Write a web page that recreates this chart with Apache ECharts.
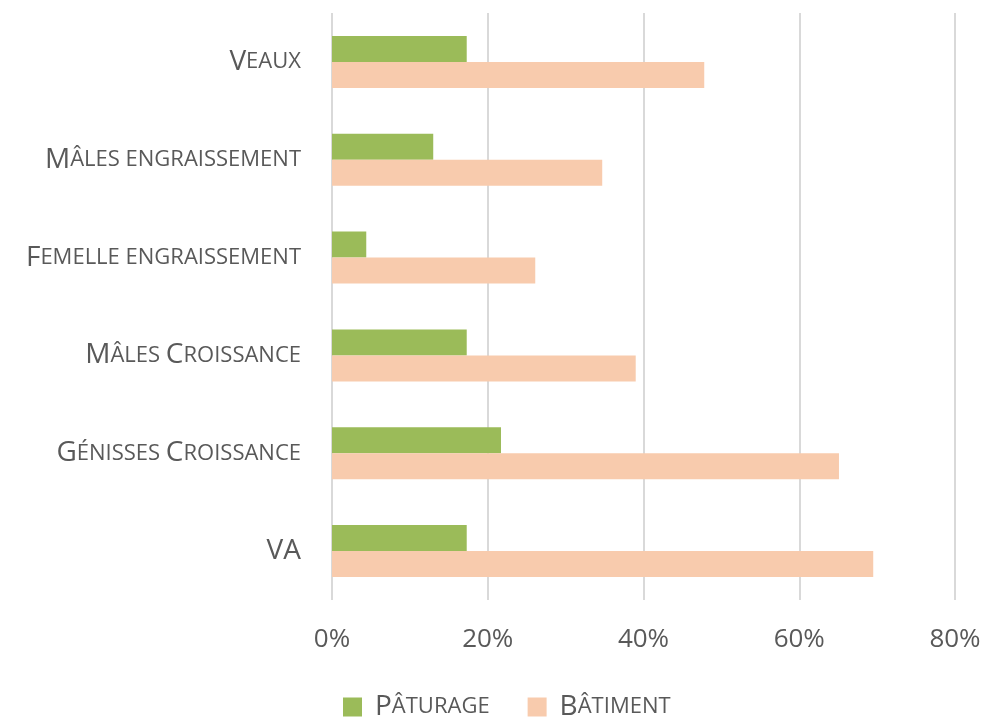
<!DOCTYPE html>
<html><head><meta charset="utf-8">
<script src="https://cdn.jsdelivr.net/npm/echarts@6/dist/echarts.min.js"></script>
<style>html,body{margin:0;padding:0;background:#fff}#c{width:984px;height:720px}</style>
</head><body><div id="c"></div>
<script>
const categories = ['Veaux', 'Mâles engraissement', 'Femelle engraissement', 'Mâles Croissance', 'Génisses Croissance', 'VA'];
const paturage = [17.3, 13.0, 4.4, 17.3, 21.7, 17.3];
const batiment = [47.8, 34.7, 26.1, 39.0, 65.1, 69.5];
const seriesNames = ['Pâturage', 'Bâtiment'];
const xTicks = [0, 20, 40, 60, 80];

function smallCaps(s) {
  let out = '', cur = null, buf = '';
  for (const ch of s) {
    const t = (ch !== ch.toLowerCase()) ? 'big' : 'sm';
    if (t !== cur && buf) { out += '{' + cur + '|' + buf + '}'; buf = ''; }
    cur = t; buf += ch.toUpperCase();
  }
  if (buf) out += '{' + cur + '|' + buf + '}';
  return out;
}
const FONT = 'Open Sans';
const rich = {
  big: {fontSize: 28, color: '#595959', fontFamily: FONT},
  sm: {fontSize: 22, color: '#595959', fontFamily: FONT}
};
const chart = echarts.init(document.getElementById('c'));
chart.setOption({
  animation: false,
  grid: {left: 332, right: 29, top: 13, bottom: 120, containLabel: false},
  legend: {
    data: seriesNames, left: 343, top: 693, itemWidth: 19, itemHeight: 19, itemGap: 38,
    icon: 'rect', padding: 0,
    formatter: n => smallCaps(n),
    textStyle: {rich: rich, padding: [0, 0, 0, 8]}
  },
  xAxis: {
    type: 'value', min: 0, max: 80, interval: 20,
    axisLine: {show: false}, axisTick: {show: false},
    splitLine: {lineStyle: {color: '#D9D9D9', width: 2}},
    axisLabel: {formatter: v => xTicks.includes(v) ? v + '%' : '', fontSize: 26, color: '#595959', fontFamily: FONT, margin: 27}
  },
  yAxis: {
    type: 'category', data: categories, inverse: true,
    axisLine: {show: false}, axisTick: {show: false},
    axisLabel: {formatter: v => smallCaps(v), rich: rich, margin: 31}
  },
  series: [
    {name: seriesNames[0], type: 'bar', data: paturage, barWidth: 26, barGap: '0%', itemStyle: {color: '#9BBB59'}},
    {name: seriesNames[1], type: 'bar', data: batiment, barWidth: 26, barGap: '0%', itemStyle: {color: '#F8CBAD'}}
  ]
});
</script></body></html>
